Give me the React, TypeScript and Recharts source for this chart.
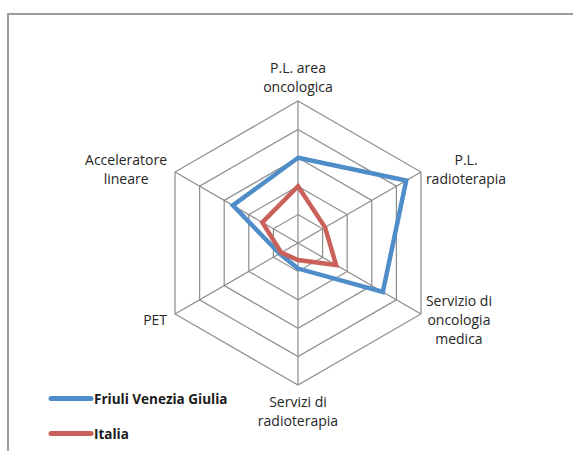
import React from 'react';
import { RadarChart, PolarGrid, PolarAngleAxis, PolarRadiusAxis, Radar } from 'recharts';

const categories = [
  'P.L. area\noncologica',
  'P.L.\nradioterapia',
  'Servizio di\noncologia\nmedica',
  'Servizi di\nradioterapia',
  'PET',
  'Acceleratore\nlineare',
];
const friuliValues = [3.0, 4.4, 3.45, 0.9, 0.75, 2.65];
const italiaValues = [2.0, 1.1, 1.55, 0.6, 0.68, 1.45];
const seriesNames = ['Friuli Venezia Giulia', 'Italia'];
const seriesColors = ['#4F8DC9', '#C9605A'];
const radiusDomain: [number, number] = [0, 5];

const data = categories.map((c, i) => ({ category: c, fvg: friuliValues[i], ita: italiaValues[i] }));

const W = 573;
const H = 451;
const CX = 298;
const CY = 243;
const R = 142;
const FONT = "'Open Sans', Lato, sans-serif";
const FONT_SIZE = 14;
const LINE_H = 19;

let measureCtx: CanvasRenderingContext2D | null = null;
function textWidth(s: string): number {
  if (typeof document !== 'undefined') {
    if (!measureCtx) measureCtx = document.createElement('canvas').getContext('2d');
    if (measureCtx) {
      measureCtx.font = `${FONT_SIZE}px ${FONT}`;
      return measureCtx.measureText(s).width;
    }
  }
  return s.length * 6.9;
}

function AngleTick(props: any) {
  const { x, y, payload, textAnchor } = props;
  const lines = String(payload.value).split('\n');
  const n = lines.length;
  const half = Math.max(...lines.map((l) => textWidth(l))) / 2;
  let centerX = x;
  let firstY: number;
  if (textAnchor === 'start') {
    centerX = x - 2 + half;
    firstY = y + 2 - ((n - 1) * LINE_H) / 2;
  } else if (textAnchor === 'end') {
    centerX = x - 1 - half;
    firstY = y + 2 - ((n - 1) * LINE_H) / 2;
  } else if (y < CY) {
    firstY = y - 6 - (n - 1) * LINE_H;
  } else {
    firstY = y + 9;
  }
  return (
    <g>
      {lines.map((l, i) => (
        <text
          key={i}
          x={centerX}
          y={firstY + i * LINE_H}
          dy="0.35em"
          textAnchor="middle"
          fontFamily={FONT}
          fontSize={FONT_SIZE}
          fill="#262626"
        >
          {l}
        </text>
      ))}
    </g>
  );
}

export default function App() {
  return (
    <div style={{ position: 'absolute', left: 0, top: 0, width: W, height: H, overflow: 'hidden', background: '#fff' }}>
      <div
        style={{
          position: 'absolute',
          left: 7,
          top: 13,
          width: 700,
          height: 600,
          borderTop: '2px solid #9c9c9c',
          borderLeft: '2px solid #9c9c9c',
          boxSizing: 'border-box',
        }}
      />
      <div style={{ position: 'absolute', left: 0, top: 0 }}>
        <RadarChart width={W} height={H} data={data} cx={CX} cy={CY} outerRadius={R} margin={{ top: 0, right: 0, bottom: 0, left: 0 }}>
          <PolarGrid gridType="polygon" stroke="#8c8c8c" strokeWidth={1.2} />
          <PolarAngleAxis dataKey="category" tick={<AngleTick />} tickLine={false} axisLine={false} />
          <PolarRadiusAxis domain={radiusDomain} tickCount={6} tick={false} axisLine={false} />
          <Radar dataKey="fvg" name={seriesNames[0]} stroke={seriesColors[0]} strokeWidth={4.5} fill="none" fillOpacity={0} dot={false} isAnimationActive={false} />
          <Radar dataKey="ita" name={seriesNames[1]} stroke={seriesColors[1]} strokeWidth={4.5} fill="none" fillOpacity={0} dot={false} isAnimationActive={false} />
        </RadarChart>
      </div>
      <svg style={{ position: 'absolute', left: 0, top: 0 }} width={W} height={H}>
        {seriesNames.map((name, i) => (
          <g key={name}>
            <line x1={51} x2={91} y1={398.5 + i * 35} y2={398.5 + i * 35} stroke={seriesColors[i]} strokeWidth={5} strokeLinecap="round" />
            <text x={94} y={399.5 + i * 35} dy="0.35em" fontFamily={FONT} fontSize={13.5} fontWeight="bold" fill="#1a1a1a">
              {name}
            </text>
          </g>
        ))}
      </svg>
    </div>
  );
}
